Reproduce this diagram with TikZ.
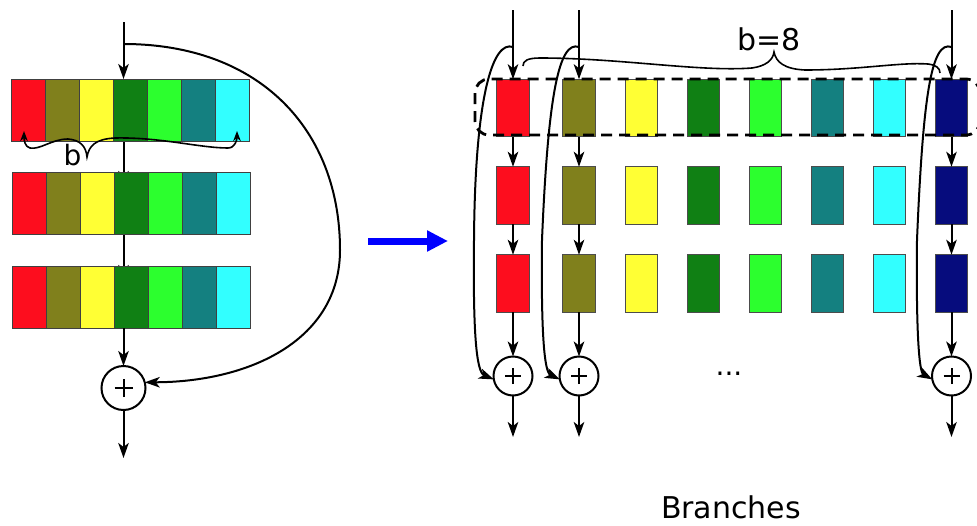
\documentclass[tikz,border=0pt]{standalone}
\usepackage{fontspec}
\setmainfont{DejaVu Sans}
\usetikzlibrary{arrows.meta,backgrounds,fit,calc}

% block colours
\definecolor{cRed}{RGB}{253,13,30}
\definecolor{cOlive}{RGB}{128,128,28}
\definecolor{cYellow}{RGB}{255,255,52}
\definecolor{cDGreen}{RGB}{16,128,20}
\definecolor{cLGreen}{RGB}{44,255,46}
\definecolor{cTeal}{RGB}{20,128,128}
\definecolor{cCyan}{RGB}{50,255,255}
\definecolor{cNavy}{RGB}{6,12,125}

\tikzset{
  blk/.style={draw=black!75, line width=1pt, inner sep=0pt, outer sep=0pt,
              minimum width=33.95pt, minimum height=62pt},
  cell/.style={draw=black!70, line width=1pt, inner sep=0pt, outer sep=0pt,
               minimum width=32.5pt, minimum height=57.5pt},
  tipS/.tip={Stealth[length=15pt,width=10.5pt,inset=4pt]},
  conn/.style={line width=2pt, -tipS},
  sumnode/.style={circle, draw, line width=2pt, inner sep=0pt, outer sep=0pt,
                  minimum size=#1},
  plusbar/.style={line width=2pt},
  bracepath/.style={line width=1.6pt},
  bigtxt/.style={font=\fontsize{30}{36}\selectfont, anchor=base, inner sep=0pt},
  midtxt/.style={font=\fontsize{28}{34}\selectfont, anchor=base, inner sep=0pt},
}

\begin{document}
\begin{tikzpicture}[x=1pt,y=-1pt]
\useasboundingbox (0,0) rectangle (977,525);

% ---------- left: stacked grouped layers ----------
\foreach \r/\yc/\xl in {1/110/11.7, 2/203/12.7, 3/297/12.7}{
  \foreach \c [count=\i] in {cRed,cOlive,cYellow,cDGreen,cLGreen,cTeal,cCyan}{
    \node[blk, fill=\c] (L\r-\i) at ({\xl+33.95*(\i-0.5)},\yc) {};
  }
  \node[fit=(L\r-1)(L\r-7), inner sep=0pt, outer sep=0pt] (bar\r) {};
}

\node[sumnode=44pt] (sum0) at (123.5,388) {};
\draw[plusbar] ([xshift=-9pt]sum0.center) -- ([xshift=9pt]sum0.center);
\draw[plusbar] ([yshift=-9pt]sum0.center) -- ([yshift=9pt]sum0.center);

\coordinate (lin) at (123.5,22);
\coordinate (lsplit) at (123.5,44);
\coordinate (lout) at (123.5,458);

\draw[conn] (lin) -- (lin |- bar1.north);
\begin{scope}[on background layer]
  \draw[conn] (bar1.south -| lin) -- ([yshift=-14pt]bar2.north -| lin);
  \draw[conn] (bar2.south -| lin) -- ([yshift=-14pt]bar3.north -| lin);
\end{scope}
\draw[conn] (bar3.south -| lin) -- (sum0.north);
\draw[conn] (sum0.south) -- (lout);

% identity shortcut
\draw[conn] (lsplit) .. controls (260,44) and (340,130) .. (340,250)
            .. controls (340,340) and (250,382) .. (sum0.15);

% brace marking the group width b
\draw[bracepath, {Stealth[length=10pt,width=7.5pt,inset=3pt]}-{Stealth[length=10pt,width=7.5pt,inset=3pt]}]
  (24,131) .. controls (24,140) and (25,147) .. (30,148)
  .. controls (40,150) and (52,139) .. (68,139)
  .. controls (80,140) and (86,146) .. (87,157)
  .. controls (89,146) and (95,139) .. (115,138)
  .. controls (160,137) and (200,148) .. (228,148)
  .. controls (235,148) and (237,140) .. (237,131);
\node[midtxt] (blab) at (72.5,165) {b};

% ---------- transformation arrow ----------
\coordinate (ta) at (368,241);
\coordinate (tb) at (448,241);
\draw[blue, line width=7pt, -{Triangle[length=21pt,width=20pt]}] (ta) -- (tb);

% ---------- right: parallel branches ----------
\foreach \x/\c [count=\i] in {513/cRed,579/cOlive,641.5/cYellow,703.5/cDGreen,
                               765.5/cLGreen,827.5/cTeal,889.5/cCyan,951.5/cNavy}{
  \foreach \r/\yc in {1/108,2/195.5,3/283.5}{
    \node[cell, fill=\c] (R\r-\i) at (\x,\yc) {};
  }
}

% grouping frame around the first layer
\draw[line width=2.8pt, dash pattern=on 11pt off 7pt, rounded corners=14pt]
  (475,79) rectangle (980,135);

% the three drawn branches
\foreach \i/\x/\xa/\xb in {1/513/475/474, 2/579/548/542, 8/951.5/923/917}{
  \node[sumnode=39pt] (S\i) at (\x,376) {};
  \draw[plusbar] ([xshift=-8pt]S\i.center) -- ([xshift=8pt]S\i.center);
  \draw[plusbar] ([yshift=-8pt]S\i.center) -- ([yshift=8pt]S\i.center);
  \coordinate (in\i) at (\x,10);
  \coordinate (sp\i) at (\x,47);
  \coordinate (out\i) at (\x,437);
  \draw[conn] (in\i) -- (R1-\i.north);
  \draw[conn] (R1-\i.south) -- (R2-\i.north);
  \draw[conn] (R2-\i.south) -- (R3-\i.north);
  \draw[conn] (R3-\i.south) -- (S\i.north);
  \draw[conn] (S\i.south) -- (out\i);
  \draw[conn] (sp\i) .. controls (\x-20,40) and (\xa,95) .. (\xb,240)
              .. controls (\xb-1,330) and (\xb+2,372) .. (S\i.190);
}

% brace marking the cardinality
\draw[bracepath]
  (523,66) .. controls (523,61) and (527,58) .. (540,58)
  .. controls (620,58) and (700,72) .. (752,68)
  .. controls (766,66) and (773,60) .. (774,52)
  .. controls (776,62) and (784,69) .. (805,70)
  .. controls (860,70) and (900,62) .. (928,64)
  .. controls (936,65) and (940,68) .. (940,73);
\node[bigtxt] (card) at (769,50) {b=8};

\node[midtxt] (dots) at (729,375) {...};
\node[bigtxt] (branches) at (731,518) {Branches};
\end{tikzpicture}
\end{document}
